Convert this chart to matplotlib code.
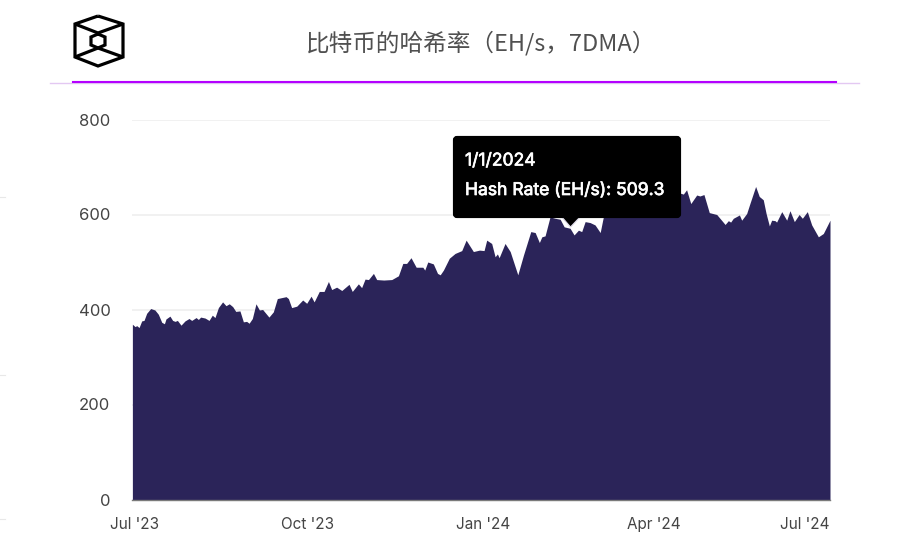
import datetime as dt
import matplotlib
matplotlib.use("Agg")
import matplotlib.pyplot as plt
import matplotlib.dates as mdates
import matplotlib.patheffects as pe
from matplotlib.patches import FancyBboxPatch, Polygon
from matplotlib.lines import Line2D
from matplotlib.transforms import Affine2D, ScaledTranslation

W, H = 898, 543

day_offset = [
    0.2, 1.6, 2.5, 3.7, 5.1, 6.3, 7.7, 9.8, 12, 13.8, 15.6, 17, 17.8, 19.9, 21.3, 22.6, 23.8,
    25.7, 27.8, 29.9, 31.3, 33.6, 34.8, 36, 38.3, 40.4, 42.1, 43.5, 45.3, 47.5, 49.3, 51,
    52.8, 54.4, 56.6, 58.4, 60.1, 61.4, 63.1, 65, 66.8, 68.5, 71.8, 74.1, 76.2, 80.8, 82,
    83.7, 86.4, 89.5, 91.6, 93.9, 95.5, 98.2, 100.7, 103, 104.7, 107.3, 110, 113.8, 115.5,
    118.7, 120.4, 122.2, 124, 126.6, 128.3, 132, 136.2, 139.7, 142, 144, 146.3, 149, 152.5,
    153.5, 155.1, 158, 160.2, 161.6, 163.3, 166.4, 169.4, 172.9, 175.2, 179, 182.2, 184.6,
    186, 188.6, 190.4, 191.6, 192.5, 195.6, 198.3, 202.3, 205.3, 209.1, 211.4, 213.6, 214.9,
    216.6, 219.2, 221.9, 224.5, 226.6, 229.7, 231.8, 234.1, 235.8, 237.6, 240.2, 242.8,
    245.5, 246.8, 248, 250, 253, 256, 258, 260, 262, 264, 266, 268, 270, 272, 274, 276, 278,
    281, 284, 287.4, 289.1, 290.8, 293, 296.1, 297.8, 299.9, 302.7, 306.6, 311, 312.7,
    313.9, 315.3, 318.5, 319.7, 322.3, 324, 327, 328.9, 331, 332.5, 334.2, 335.4, 337.2,
    338, 340.7, 343.3, 345, 347.3, 349.8, 351.5, 354.1, 356.4, 359.9, 362.5, 366,
]
hash_rate = [
    369, 364, 366, 362, 376, 377, 392, 402, 399, 390, 373, 370, 380, 386, 377, 375, 377,
    367, 376, 381, 377, 383, 379, 384, 382, 377, 388, 383, 404, 416, 408, 412,
    406, 396, 397, 374, 375, 371, 381, 412, 399, 400, 384, 395, 423, 427, 423,
    404, 407, 420, 413, 428, 416, 438, 438, 459, 442, 447, 440, 453, 438,
    454, 446, 464, 463, 476, 463, 462, 463, 471, 497, 497, 509, 489, 489,
    483, 500, 496, 476, 473, 483, 508, 518, 524, 546, 522, 525, 524,
    546, 539, 511, 517, 509, 539, 522, 473, 515, 564, 562, 541, 553,
    555, 595, 592, 590, 574, 571, 557, 567, 564, 585, 583, 578,
    562, 588, 610, 625, 615, 630, 612, 640, 600, 625, 598, 620, 600, 628, 597, 635, 625,
    645, 635, 645, 643, 652, 623, 641, 639, 642, 604, 600, 579, 587,
    584, 592, 599, 588, 602, 623, 659, 638, 631, 602, 576, 588, 587,
    584, 606, 588, 608, 585, 600, 592, 606, 578, 553, 560, 588,
]
y_ticks = [0, 200, 400, 600, 800]
x_tick_dates = [dt.date(2023, 7, 1), dt.date(2023, 10, 1), dt.date(2024, 1, 1),
                dt.date(2024, 4, 1), dt.date(2024, 7, 1)]
x_tick_labels = ["Jul '23", "Oct '23", "Jan '24", "Apr '24", "Jul '24"]
title = "比特币的哈希率（EH/s，7DMA）"
tooltip_date = "1/1/2024"
tooltip_value = "Hash Rate (EH/s): 509.3"

dates = [dt.datetime(2023, 7, 1) + dt.timedelta(days=d) for d in day_offset]

plt.rcParams["font.family"] = ["Inter", "Noto Sans", "DejaVu Sans"]
fig = plt.figure(figsize=(W / 100, H / 100), dpi=100, facecolor="white")
px = Affine2D().scale(1 / W, -1 / H).translate(0, 1) + fig.transFigure

ax = fig.add_axes([132 / W, 1 - 499.5 / H, (830 - 132) / W, (499.5 - 119.5) / H])
ax.fill_between(dates, hash_rate, 0, color="#2b2459", lw=0, zorder=3)
ax.set_xlim(dt.datetime(2023, 7, 1), dt.datetime(2024, 7, 1))
ax.set_ylim(0, 800)
ax.set_yticks(y_ticks)
ax.grid(axis="y", color="#ededed", lw=1.1, zorder=0)
ax.set_axisbelow(True)
for s in ["top", "right", "left"]:
    ax.spines[s].set_visible(False)
ax.spines["bottom"].set_color("#7a7a7a")
ax.spines["bottom"].set_linewidth(1.0)
ax.spines["bottom"].set_zorder(5)
ax.tick_params(axis="both", length=0, labelcolor="#444444")
ax.tick_params(axis="y", pad=15.5, labelsize=12)
ax.tick_params(axis="x", pad=12.5, labelsize=11)
ax.set_xticks([mdates.date2num(d) for d in x_tick_dates])
ax.set_xticklabels(x_tick_labels)
labels = ax.get_xticklabels()
labels[-1].set_ha("right")
labels[0].set_transform(labels[0].get_transform() + ScaledTranslation(2.5 / 100, 0, fig.dpi_scale_trans))
labels[3].set_transform(labels[3].get_transform() + ScaledTranslation(-2.5 / 100, 0, fig.dpi_scale_trans))

# header rules
fig.add_artist(Line2D([50, 859], [83, 83], transform=px, color="#e3c8f2", lw=1.0))
fig.add_artist(Line2D([73, 836], [82, 82], transform=px, color="#b400ff", lw=1.5))
for yy in (197, 375, 519):
    fig.add_artist(Line2D([0, 5], [yy, yy], transform=px, color="#e8e8e8", lw=0.8))

fig.text(481 / W, 1 - 43.5 / H, title, ha="center", va="center", fontsize=17, color="#505050",
         family=["Noto Sans CJK SC", "DejaVu Sans"])

# logo
logo_kw = dict(transform=px, color="black", lw=2.3, solid_joinstyle="miter", solid_capstyle="butt")
fig.add_artist(Line2D([98, 123, 123, 98, 75, 75, 98], [16, 24, 57, 66, 57, 24, 16], **logo_kw))
fig.add_artist(Line2D([75, 98, 123], [24, 33, 24], **logo_kw))
fig.add_artist(Line2D([75, 98, 123], [57, 48, 57], **logo_kw))
fig.add_artist(Line2D([98, 105, 105, 98, 91, 91, 98], [34, 37, 45, 48, 45, 37, 34], **logo_kw))

# tooltip
fig.add_artist(Polygon([[561, 216], [570.5, 227], [581, 216]], closed=True, transform=px,
                       facecolor="black", edgecolor="#ddd9e8", lw=0.8, zorder=6))
fig.add_artist(FancyBboxPatch((455, 138), 224, 78, boxstyle="round,pad=0,rounding_size=2",
                              transform=px, facecolor="black", edgecolor="black", lw=3, zorder=7))
bold = [pe.withStroke(linewidth=0.5, foreground="white")]
fig.text(465 / W, 1 - 161 / H, tooltip_date, color="white", fontsize=12.6,
         va="center", ha="left", zorder=8, path_effects=bold)
fig.text(465 / W, 1 - 190.5 / H, tooltip_value, color="white", fontsize=12.6,
         va="center", ha="left", zorder=8, path_effects=bold)

fig.savefig("out.png", dpi=100, facecolor="white")
